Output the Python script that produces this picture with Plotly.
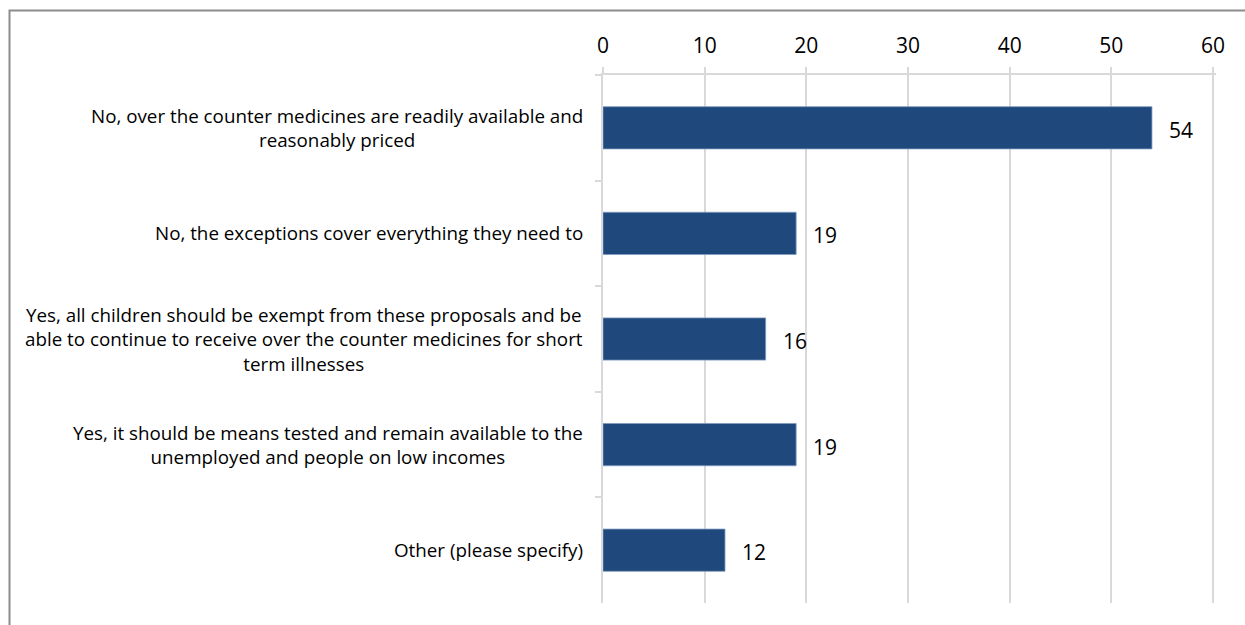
import plotly.graph_objects as go

# Survey responses (percentage of respondents)
categories = [
    "No, over the counter medicines are readily available and<br>reasonably priced",
    "No, the exceptions cover everything they need to",
    "Yes, all children should be exempt from these proposals and be<br>"
    "able to continue to receive over the counter medicines for short<br>"
    "term illnesses",
    "Yes, it should be means tested and remain available to the<br>"
    "unemployed and people on low incomes",
    "Other (please specify)",
]
values = [54, 19, 16, 19, 12]
x_ticks = [0, 10, 20, 30, 40, 50, 60]

BAR = "#1F497D"
GRID = "#D9D9D9"
FONT = "Open Sans"

fig = go.Figure(
    go.Bar(
        x=values,
        y=categories,
        orientation="h",
        marker=dict(color=BAR, line=dict(color="#7F9BC0", width=0.8)),
        hoverinfo="x",
    )
)

annotations = []
# value labels to the right of each bar
for cat, v in zip(categories, values):
    annotations.append(dict(
        x=v, y=cat, xref="x", yref="y", text=str(v), showarrow=False,
        xanchor="left", yanchor="middle", xshift=15, yshift=-2,
        font=dict(family=FONT, size=21, color="#000000"),
    ))

# category labels: centred lines, right edge just left of the plot
for cat in categories:
    annotations.append(dict(
        x=0, y=cat, xref="paper", yref="y", text=cat, showarrow=False,
        xanchor="right", yanchor="middle", xshift=-18,
        font=dict(family=FONT, size=18.8, color="#000000"),
        align="center",
    ))

fig.update_layout(
    width=1245,
    height=625,
    margin=dict(l=603, r=29, t=75, b=22),
    paper_bgcolor="#FFFFFF",
    plot_bgcolor="#FFFFFF",
    bargap=0.6,
    showlegend=False,
    annotations=annotations,
    font=dict(family=FONT, color="#000000"),
    xaxis=dict(
        side="top",
        range=[0, 60.3],
        tickvals=x_ticks,
        ticktext=[str(t) for t in x_ticks],
        tickfont=dict(family=FONT, size=21, color="#000000"),
        showgrid=True,
        gridcolor=GRID,
        gridwidth=1.5,
        zeroline=False,
        showline=True,
        linecolor=GRID,
        linewidth=1.5,
        ticks="outside",
        ticklen=6,
        tickcolor=GRID,
        tickwidth=1.5,
        ticklabelstandoff=6,
        fixedrange=True,
    ),
    yaxis=dict(
        autorange="reversed",
        showticklabels=False,
        tickson="boundaries",
        ticks="outside",
        ticklen=6,
        tickcolor=GRID,
        tickwidth=1.5,
        showline=True,
        linecolor=GRID,
        linewidth=1.5,
        showgrid=False,
        zeroline=False,
        fixedrange=True,
    ),
    shapes=[
        # chart frame
        dict(type="rect", xref="paper", yref="paper",
             x0=(9.5 - 603) / 613, x1=(1260 - 603) / 613,
             y0=-(640 - 603) / 528, y1=1 + (75 - 10.5) / 528,
             line=dict(color="#8C8C8C", width=2), fillcolor="rgba(0,0,0,0)",
             layer="below"),
    ],
)

fig.write_html("out.html")
